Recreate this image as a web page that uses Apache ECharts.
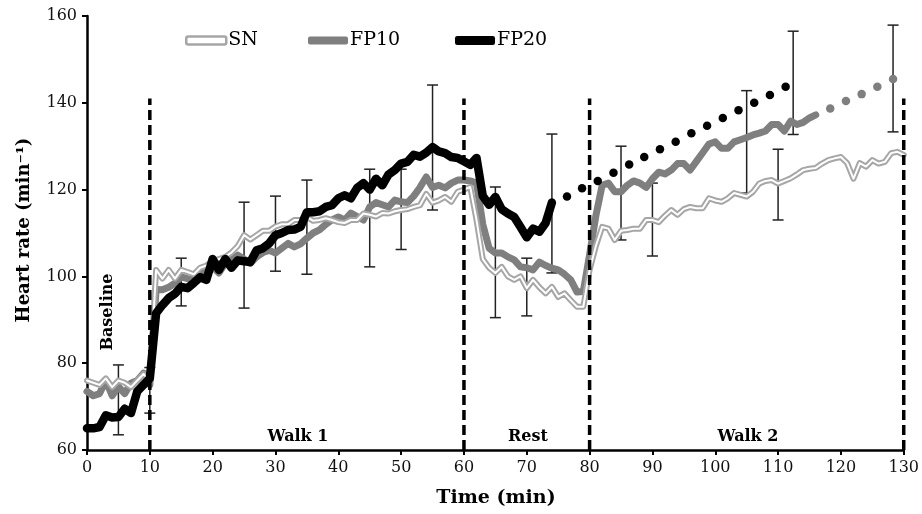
<!DOCTYPE html>
<html>
<head>
<meta charset="utf-8">
<script src="https://cdn.jsdelivr.net/npm/echarts@6/dist/echarts.min.js"></script>
<style>html,body{margin:0;padding:0;background:#fff}#c{width:922px;height:514px}</style>
</head>
<body>
<div id="c"></div>
<script>
// Heart rate (min^-1) sampled every minute, starting at t = 0 min
const snValues = [76,75.5,75,76.5,74.5,76,75.5,74.5,76,77.5,76,
101.5,99.5,101.5,99.5,101.5,101,100.5,102,102.5,103.5,
104,104.5,105.5,107,109.5,108.5,109.5,110.5,110.5,111.5,
112,112,113,113,113.7,112.8,113,113.4,113,112.5,
112.3,113,113,114.5,114.2,113.8,114.6,114.5,115,115.3,
115.5,116,116.4,119,117,117.5,118.3,117.2,119.5,120,
120.6,113,104,102,100.8,102.2,100,99.2,100,97.3,
99.2,97.5,96.1,97.6,95.3,96.1,94.5,93,93,101.5,
107,111.4,111,108.4,110.5,110.7,111,111,113,113,
112.5,114,115.3,114.2,115.5,116,115.7,115.7,118,117.5,
117.2,118,119.2,118.8,118.4,119.5,121.4,122,122.2,121.4,
122,122.6,123.5,124.5,124.8,125,126,126.8,127.2,127.5,
126.1,122.5,126.1,125.3,126.8,126,126.4,128.4,128.7,128];
const fp10Values = [73.5,72.5,73,76,72.5,74.6,73,75.4,76,77.7,75,
97,96.9,97.5,98.4,99.9,99.5,99.2,100.5,101.5,102.2,
100.8,103,104,104.9,104,103,104.5,105.5,106,105.4,
106.5,107.6,106.8,107.5,108.8,110,110.7,112,113,113.7,
113,114.6,113.8,113,116,117,116.5,116,117.6,117.2,
117,118.5,120.5,122.9,120.5,121,120.4,121.5,122.2,122.2,
122,121.5,112,106.5,105.4,105.4,104.5,103.8,102.2,102,
101.5,103.3,102.5,101.9,101.5,100.5,99.2,96.4,96.5,105,
114,121,121.5,119.5,119.5,121,122,121.5,120.5,122.5,
124,123.6,124.5,126,126,124.5,126.5,128.5,130.5,131,
129.5,129.5,131,131.5,132,132.6,133,133.5,135,135,
133.5,135.8,135,135.5,136.5,137.2];
const fp20Values = [65,65,65.3,68,67.5,67.6,69.5,68.5,73.5,75,76.5,
91.5,93.4,95,96,97.6,97.3,98.5,99.8,99.2,104,
101.5,104,102,103.7,103.5,103.3,106,106.5,107.6,109.5,
110,110.7,110.8,111.4,114.8,114.8,115,116,116.4,118,
118.7,118,120.4,121.5,120,122.5,121,123.5,124.5,126,
126.4,128,127.6,128.5,129.8,128.8,128.4,127.5,127.3,126.5,
125.7,127.3,118.5,116.5,118.3,115.5,114.5,113.7,111.4,109,
111,110.3,112.3,117];
// dotted continuations [time, value]
const fp10DotTimes = [118.3,120.8,123.3,125.8,128.3];
const fp10DotValues = [138.7,140.4,142,143.7,145.5];
const fp20DotTimes = [76.4,78.8,81.3,83.8,86.3,88.7,91.2,93.7,96.2,98.7,101.2,103.7,106.2,108.7,111.2];
const fp20DotValues = [118.4,120.3,122,123.9,125.8,127.5,129.3,131,133,134.7,136.5,138.3,140,141.8,143.7];
// error bars
const errTimes = [5,10,15,25,30,35,45,50,55,65,70,74,85,90,105,110,112.4,128.3];
const errLow  = [63.5,68.5,93.2,92.7,101.2,100.5,102.2,106.2,115.3,90.5,90.9,100.8,108.4,104.7,119.2,113,132.7,133.3];
const errHigh = [79.6,79,104.2,117.1,118.5,122.2,124.7,124.7,144.1,120.6,104.2,132.8,130,121.5,142.8,129.3,156.5,157.9];
// phase boundaries (min)
const phaseTimes = [10,60,80,130];
const phaseTop = 141;
const phaseLabels = ['Walk 1','Rest','Walk 2'];
const xTicks = {min:0,max:130,interval:10};
const yTicks = {min:60,max:160,interval:20};

const toPairs = (arr) => arr.map((v,i)=>[i,v]);
const zip = (a,b) => a.map((v,i)=>[v,b[i]]);

const serif = 'DejaVu Serif';
const chart = echarts.init(document.getElementById('c'));
const legendBase = {top:31, padding:0, itemWidth:40, itemGap:0, itemHeight:8, icon:'roundRect',
  textStyle:{fontFamily:serif, fontSize:19, color:'#000', padding:[0,0,0,-3]}, selectedMode:false};

chart.setOption({
  animation:false,
  backgroundColor:'#fff',
  grid:{left:87,right:16,top:16,bottom:64},
  legend:[
    Object.assign({}, legendBase, {left:185, data:[{name:'SN', itemStyle:{color:'#fff', borderColor:'#a6a6a6', borderWidth:2.5}}]}),
    Object.assign({}, legendBase, {left:308, data:[{name:'FP10', itemStyle:{color:'#7f7f7f', borderWidth:0}}]}),
    Object.assign({}, legendBase, {left:455, itemHeight:9, data:[{name:'FP20', itemStyle:{color:'#000', borderWidth:0}}]})
  ],
  xAxis:{type:'value', min:xTicks.min, max:xTicks.max, interval:xTicks.interval,
    axisLine:{lineStyle:{color:'#000', width:2.5}},
    axisTick:{length:5, lineStyle:{color:'#000', width:2}},
    splitLine:{show:false},
    axisLabel:{fontFamily:serif, fontSize:16, color:'#111', margin:10}},
  yAxis:{type:'value', min:yTicks.min, max:yTicks.max, interval:yTicks.interval,
    axisLine:{show:true, lineStyle:{color:'#000', width:2.5}},
    axisTick:{show:true, length:5, lineStyle:{color:'#000', width:2}},
    splitLine:{show:false},
    axisLabel:{fontFamily:serif, fontSize:16, color:'#111', margin:10}},
  graphic:[
    {type:'text', x:496, y:498, style:{text:'Time (min)', font:'bold 19px "DejaVu Serif"', fill:'#000', align:'center', verticalAlign:'middle'}},
    {type:'text', x:24, y:230, rotation:Math.PI/2, style:{text:'Heart rate (min⁻¹)', font:'bold 18px "DejaVu Serif"', fill:'#000', align:'center', verticalAlign:'middle'}},
    {type:'text', x:108, y:312, rotation:Math.PI/2, style:{text:'Baseline', font:'bold 16px "DejaVu Serif"', fill:'#000', align:'center', verticalAlign:'middle'}},
    {type:'text', x:298, y:437, style:{text:phaseLabels[0], font:'bold 16px "DejaVu Serif"', fill:'#000', align:'center', verticalAlign:'middle'}},
    {type:'text', x:528, y:437, style:{text:phaseLabels[1], font:'bold 16px "DejaVu Serif"', fill:'#000', align:'center', verticalAlign:'middle'}},
    {type:'text', x:748, y:437, style:{text:phaseLabels[2], font:'bold 16px "DejaVu Serif"', fill:'#000', align:'center', verticalAlign:'middle'}}
  ],
  series:[
    {type:'custom', name:'err', z:1, silent:true,
      data: errTimes.map((t,i)=>[t, errLow[i], errHigh[i]]),
      encode:{x:0, y:[1,2]},
      renderItem:(params, api)=>{
        const t = api.value(0);
        const lo = api.coord([t, api.value(1)]);
        const hi = api.coord([t, api.value(2)]);
        const w = 5.5;
        const st = {stroke:'#222', lineWidth:1.5};
        return {type:'group', children:[
          {type:'line', shape:{x1:lo[0], y1:lo[1], x2:hi[0], y2:hi[1]}, style:st},
          {type:'line', shape:{x1:lo[0]-w, y1:lo[1], x2:lo[0]+w, y2:lo[1]}, style:st},
          {type:'line', shape:{x1:hi[0]-w, y1:hi[1], x2:hi[0]+w, y2:hi[1]}, style:st}
        ]};
      }},
    {type:'line', name:'FP10', z:2, data:toPairs(fp10Values), showSymbol:false, symbol:'none',
      lineStyle:{color:'#7f7f7f', width:7, cap:'round', join:'round'}, itemStyle:{color:'#7f7f7f'}},
    {type:'scatter', name:'FP10', z:2, data:zip(fp10DotTimes, fp10DotValues), symbolSize:8.5, itemStyle:{color:'#7f7f7f', opacity:1}},
    {type:'line', name:'SN', z:3, data:toPairs(snValues), showSymbol:false, symbol:'none',
      lineStyle:{color:'#a6a6a6', width:6, cap:'round', join:'round'}, itemStyle:{color:'#a6a6a6'}},
    {type:'line', name:'SN', z:4, data:toPairs(snValues), showSymbol:false, symbol:'none',
      lineStyle:{color:'#fff', width:2, cap:'round', join:'round'}, itemStyle:{color:'#a6a6a6'}},
    {type:'line', name:'FP20', z:5, data:toPairs(fp20Values), showSymbol:false, symbol:'none',
      lineStyle:{color:'#000', width:8.5, cap:'round', join:'round'}, itemStyle:{color:'#000'}},
    {type:'scatter', name:'FP20', z:5, data:zip(fp20DotTimes, fp20DotValues), symbolSize:8.5, itemStyle:{color:'#000', opacity:1}},
    {type:'custom', name:'phases', z:6, silent:true,
      data: phaseTimes.map(t=>[t, yTicks.min, phaseTop]),
      encode:{x:0, y:[1,2]},
      renderItem:(params, api)=>{
        const t = api.value(0);
        const a = api.coord([t, api.value(1)]);
        const b = api.coord([t, api.value(2)]);
        return {type:'line', shape:{x1:a[0], y1:a[1], x2:b[0], y2:b[1]},
          style:{stroke:'#000', lineWidth:3.5, lineDash:[10,5]}};
      }}
  ]
});
</script>
</body>
</html>
